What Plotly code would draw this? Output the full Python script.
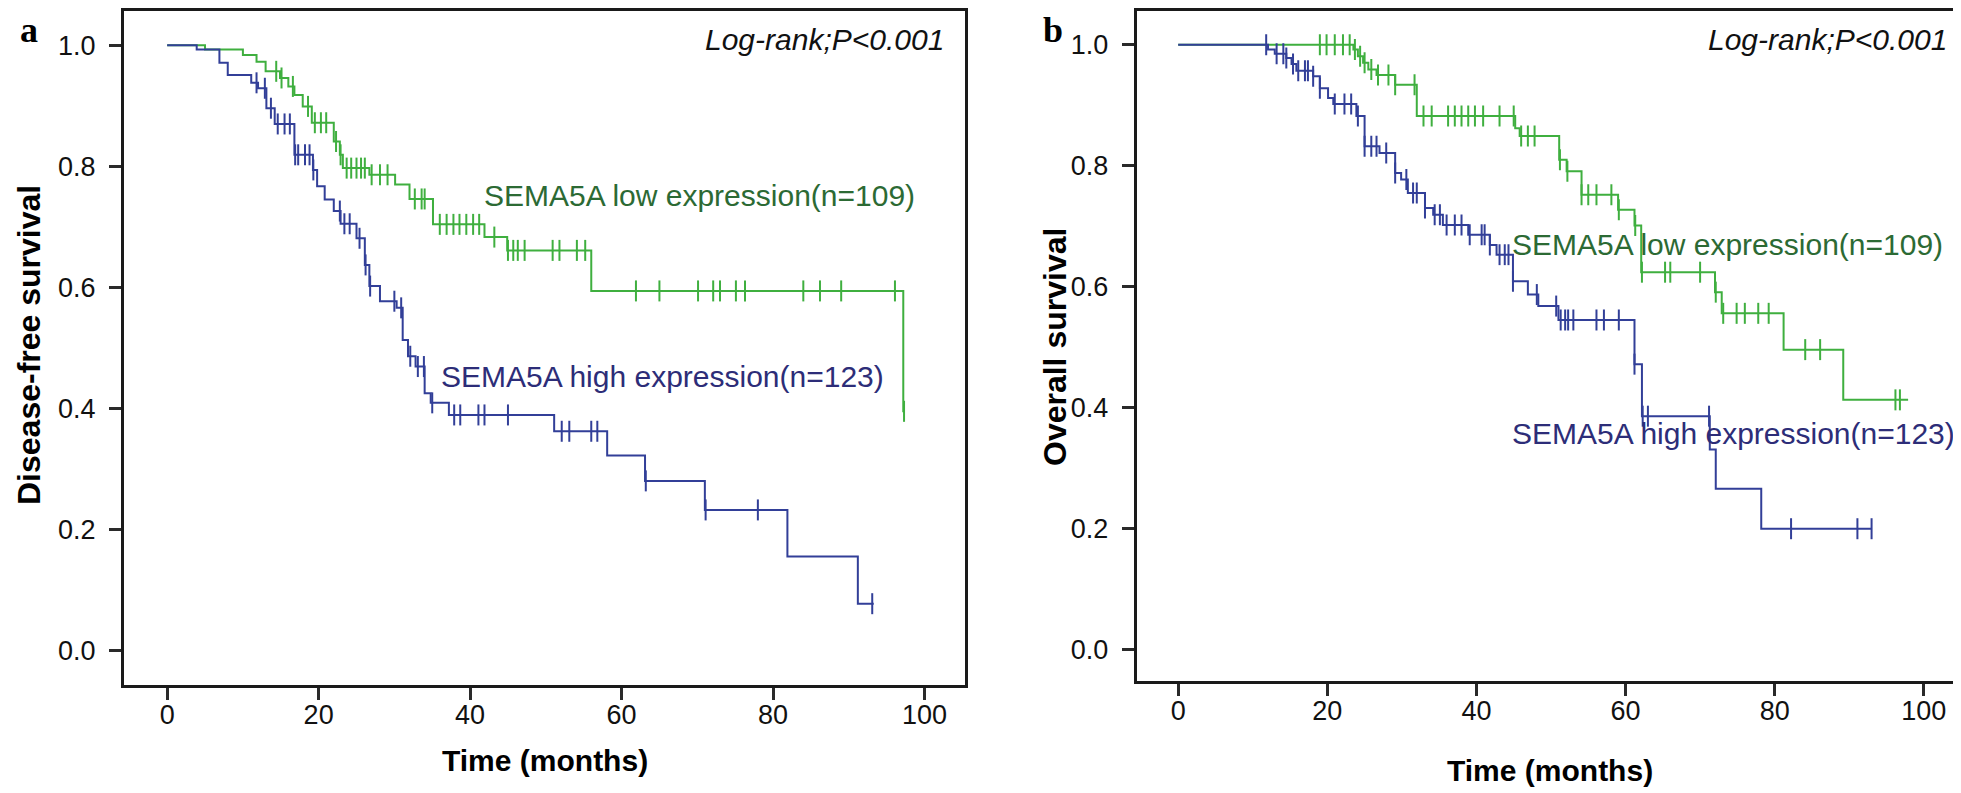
import plotly.graph_objects as go

# ---------------- data ----------------
# Panel a: disease-free survival
a_low_t = [0, 5.0, 10.0, 11.8, 13.0, 14.9, 16.0, 16.8, 17.9, 19.1, 22.0, 22.8, 23.2,
           26.7, 30.1, 32.0, 35.1, 41.9, 44.9, 56.0, 97.2]
a_low_s = [1.0, 0.993, 0.984, 0.973, 0.957, 0.946, 0.932, 0.918, 0.899, 0.872, 0.841, 0.819, 0.797,
           0.786, 0.770, 0.746, 0.704, 0.683, 0.661, 0.594, 0.395]
a_low_end = 97.4
a_low_cens = [14.4, 15.1, 16.6, 18.6, 19.5, 20.3, 21.0, 22.3, 22.9, 23.7, 24.3, 25.0, 25.6, 26.1,
              27.0, 28.1, 29.1, 32.7, 33.6, 34.0, 36.0, 36.9, 37.8, 38.6, 39.5, 40.4, 41.2, 43.2,
              45.0, 45.7, 46.3, 47.2, 50.9, 51.8, 54.1, 55.2, 61.9, 65.0, 70.1, 72.1, 73.0, 75.1,
              76.3, 84.0, 86.2, 89.0, 96.1, 97.3]

a_high_t = [0, 3.9, 6.9, 8.0, 11.1, 12.0, 13.1, 14.2, 16.8, 19.25, 19.8, 20.8, 22.0, 22.9, 25.0,
            26.1, 26.7, 28.1, 30.3, 31.1, 31.8, 32.8, 34.0, 34.8, 37.2, 51.1, 58.1, 63.1, 71.0,
            81.9, 91.2]
a_high_s = [1.0, 0.993, 0.971, 0.951, 0.938, 0.929, 0.896, 0.870, 0.819, 0.794, 0.767, 0.745, 0.726,
            0.705, 0.681, 0.637, 0.602, 0.577, 0.566, 0.513, 0.486, 0.469, 0.425, 0.409, 0.389,
            0.362, 0.322, 0.280, 0.232, 0.155, 0.077]
a_high_end = 93.3
a_high_cens = [11.8, 12.9, 13.7, 14.6, 15.5, 16.2, 16.9, 17.3, 18.2, 18.8, 19.3, 22.8, 23.4, 24.1,
               25.4, 26.2, 26.8, 30.0, 30.9, 32.1, 33.1, 33.9, 35.0, 37.9, 38.7, 41.1, 41.9, 45.0,
               52.1, 53.1, 56.0, 56.8, 63.2, 71.1, 78.0, 93.1]

# Panel b: overall survival
b_low_t = [0, 23.5, 24.1, 24.8, 25.5, 26.6, 29.1, 32.0, 45.2, 45.8, 51.1, 52.1, 54.1, 59.0, 61.2,
           62.1, 72.0, 72.9, 81.2, 89.2]
b_low_s = [1.0, 0.992, 0.981, 0.970, 0.959, 0.950, 0.934, 0.882, 0.862, 0.849, 0.810, 0.791, 0.752,
           0.727, 0.701, 0.624, 0.591, 0.556, 0.496, 0.413]
b_low_end = 97.9
b_low_cens = [19.0, 19.9, 21.0, 22.1, 23.0, 23.7, 24.4, 25.0, 25.9, 26.8, 28.2, 29.1, 31.7, 32.9,
              34.0, 36.2, 37.1, 38.0, 38.9, 39.8, 40.9, 43.1, 45.0, 46.0, 46.9, 47.8, 51.2, 52.2,
              54.1, 55.0, 56.1, 58.1, 59.1, 61.3, 62.2, 65.3, 66.0, 70.0, 72.1, 73.1, 74.9, 76.0,
              77.8, 79.2, 84.1, 86.1, 96.2, 96.8]

b_high_t = [0, 12.05, 12.95, 14.5, 15.2, 15.85, 18.1, 19.0, 20.1, 20.8, 23.9, 25.0, 27.0, 29.1,
            29.9, 30.8, 33.1, 34.2, 35.5, 38.9, 41.8, 42.7, 44.9, 46.9, 48.3, 51.0, 61.2, 62.2,
            71.3, 72.1, 78.2]
b_high_s = [1.0, 0.992, 0.985, 0.978, 0.968, 0.957, 0.948, 0.928, 0.912, 0.902, 0.882, 0.832, 0.821,
            0.788, 0.777, 0.755, 0.730, 0.719, 0.702, 0.686, 0.669, 0.653, 0.609, 0.587, 0.568,
            0.545, 0.472, 0.386, 0.331, 0.266, 0.200]
b_high_end = 93.0
b_high_cens = [11.8, 13.2, 14.1, 14.5, 15.4, 16.1, 17.0, 17.4, 18.1, 19.0, 21.0, 22.3, 23.2, 24.1,
               25.0, 25.9, 26.6, 27.9, 29.1, 30.6, 31.5, 32.0, 33.1, 34.4, 35.1, 36.0, 37.1, 38.0,
               39.1, 40.7, 41.1, 41.8, 43.1, 43.8, 44.3, 44.9, 48.1, 50.7, 51.3, 51.9, 52.3, 53.0,
               56.1, 57.1, 59.1, 61.2, 62.3, 63.0, 71.2, 82.2, 91.1, 93.0]

x_ticks = [0, 20, 40, 60, 80, 100]
y_ticks = [0.0, 0.2, 0.4, 0.6, 0.8, 1.0]

low_label = "SEMA5A low expression(n=109)"
high_label = "SEMA5A high expression(n=123)"
logrank = "Log-rank;P<0.001"

# ---------------- styling ----------------
GREEN = "#3FAF3F"
BLUE = "#323F98"
GREEN_TXT = "#2C6A34"
BLUE_TXT = "#2D2D78"
SANS = "Liberation Sans, Arial, sans-serif"
SERIF = "Liberation Serif, Times New Roman, serif"

W, H = 1961, 793


def surv_at(ts, ss, t):
    v = ss[0]
    for ti, si in zip(ts, ss):
        if ti <= t:
            v = si
    return v


fig = go.Figure()


def add_curve(ts, ss, end, cens, color, xa, ya):
    fig.add_trace(go.Scatter(x=list(ts) + [end], y=list(ss) + [ss[-1]], mode="lines",
                             line=dict(color=color, width=2, shape="hv"),
                             xaxis=xa, yaxis=ya, showlegend=False, hoverinfo="skip"))
    fig.add_trace(go.Scatter(x=cens, y=[surv_at(ts, ss, c) for c in cens], mode="markers",
                             marker=dict(symbol="line-ns", size=15,
                                         line=dict(color=color, width=2)),
                             xaxis=xa, yaxis=ya, showlegend=False, hoverinfo="skip"))


add_curve(a_low_t, a_low_s, a_low_end, a_low_cens, GREEN, "x", "y")
add_curve(a_high_t, a_high_s, a_high_end, a_high_cens, BLUE, "x", "y")
add_curve(b_low_t, b_low_s, b_low_end, b_low_cens, GREEN, "x2", "y2")
add_curve(b_high_t, b_high_s, b_high_end, b_high_cens, BLUE, "x2", "y2")

axis_common = dict(showgrid=False, zeroline=False, showline=True, mirror=True,
                   linecolor="#1a1a1a", linewidth=3, ticks="outside", ticklen=12,
                   tickwidth=2.5, tickcolor="#2a2a2a",
                   tickfont=dict(family=SANS, size=27, color="#111111"))

fig.update_layout(
    width=W, height=H, margin=dict(l=0, r=0, t=0, b=0),
    paper_bgcolor="white", plot_bgcolor="white",
    xaxis=dict(domain=[116 / W, 957 / W], range=[-5.70, 105.35], tickvals=x_ticks,
               ticklabelstandoff=-8, anchor="y", **axis_common),
    yaxis=dict(domain=[1 - 677 / H, 1 - 3 / H], range=[-0.0574, 1.0567], tickvals=y_ticks,
               tickformat=".1f", ticklabelstandoff=8, anchor="x", **axis_common),
    xaxis2=dict(domain=[1128.6 / W, 1956.7 / W], range=[-5.58, 105.49], tickvals=x_ticks,
                ticklabelstandoff=-8, anchor="y2", **axis_common),
    yaxis2=dict(domain=[1 - 673 / H, 1 - 3.3 / H], range=[-0.0517, 1.0552], tickvals=y_ticks,
                tickformat=".1f", ticklabelstandoff=8, anchor="x2", **axis_common),
)

ann = []
# in-plot labels
ann.append(dict(x=41.6, y=0.751, xref="x", yref="y", text=low_label, showarrow=False,
                xanchor="left", yanchor="middle", font=dict(family=SANS, size=30, color=GREEN_TXT)))
ann.append(dict(x=35.9, y=0.453, xref="x", yref="y", text=high_label, showarrow=False,
                xanchor="left", yanchor="middle", font=dict(family=SANS, size=30, color=BLUE_TXT)))
ann.append(dict(x=102.9, y=1.009, xref="x", yref="y", text="<i>" + logrank + "</i>", showarrow=False,
                xanchor="right", yanchor="middle", font=dict(family=SANS, size=30, color="#111111")))
ann.append(dict(x=44.5, y=0.669, xref="x2", yref="y2", text=low_label, showarrow=False,
                xanchor="left", yanchor="middle", font=dict(family=SANS, size=30, color=GREEN_TXT)))
ann.append(dict(x=44.5, y=0.357, xref="x2", yref="y2", text=high_label, showarrow=False,
                xanchor="left", yanchor="middle", font=dict(family=SANS, size=30, color=BLUE_TXT)))
ann.append(dict(x=103.4, y=1.009, xref="x2", yref="y2", text="<i>" + logrank + "</i>", showarrow=False,
                xanchor="right", yanchor="middle", font=dict(family=SANS, size=30, color="#111111")))
# axis titles
ann.append(dict(x=21 / W, y=1 - 337 / H, xref="paper", yref="paper", text="<b>Disease-free survival</b>",
                textangle=-90, showarrow=False, xanchor="center", yanchor="middle",
                font=dict(family=SANS, size=32, color="#000000")))
ann.append(dict(x=1047 / W, y=1 - 339 / H, xref="paper", yref="paper", text="<b>Overall survival</b>",
                textangle=-90, showarrow=False, xanchor="center", yanchor="middle",
                font=dict(family=SANS, size=32, color="#000000")))
ann.append(dict(x=537 / W, y=1 - 752 / H, xref="paper", yref="paper", text="<b>Time (months)</b>",
                showarrow=False, xanchor="center", yanchor="middle",
                font=dict(family=SANS, size=30, color="#000000")))
ann.append(dict(x=1542 / W, y=1 - 762 / H, xref="paper", yref="paper", text="<b>Time (months)</b>",
                showarrow=False, xanchor="center", yanchor="middle",
                font=dict(family=SANS, size=30, color="#000000")))
# panel letters
ann.append(dict(x=21 / W, y=1 - 22 / H, xref="paper", yref="paper", text="<b>a</b>",
                showarrow=False, xanchor="center", yanchor="middle",
                font=dict(family=SERIF, size=36, color="#000000")))
ann.append(dict(x=1045 / W, y=1 - 22 / H, xref="paper", yref="paper", text="<b>b</b>",
                showarrow=False, xanchor="center", yanchor="middle",
                font=dict(family=SERIF, size=36, color="#000000")))

fig.update_layout(annotations=ann)
fig.write_html("out.html")
